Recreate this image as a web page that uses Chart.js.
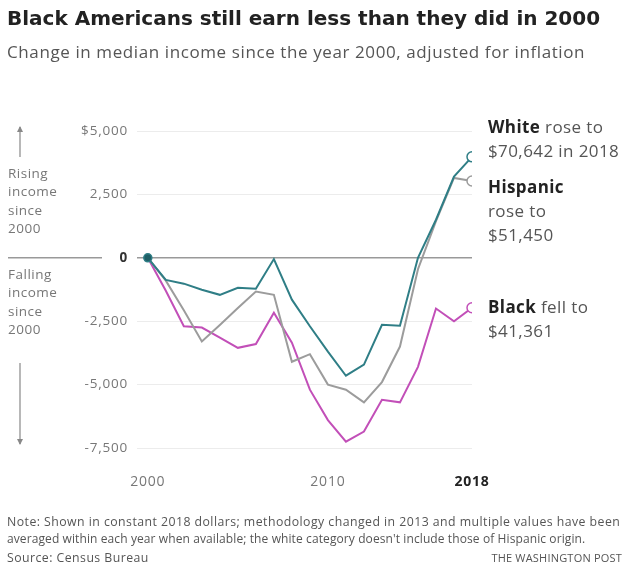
<!DOCTYPE html>
<html>
<head>
<meta charset="utf-8">
<script src="https://cdn.jsdelivr.net/npm/chart.js@4/dist/chart.umd.min.js"></script>
<style>
  body { margin: 0; background: #fff; font-family: "Open Sans", Roboto, sans-serif; }
  #wrap { position: relative; width: 631px; height: 569px; overflow: hidden; }
  #wrap canvas { position: absolute; left: 0; top: 0; }
  .txt { position: absolute; white-space: nowrap; }
  h1 { position: absolute; left: 7px; top: 6px; margin: 0; font-family: "DejaVu Sans", sans-serif; font-size: 20px; font-weight: 700; color: #222; }
  .sub { left: 7px; top: 40px; font-size: 17px; letter-spacing: 0.6px; color: #555; }
  .lbl { font-size: 17px; letter-spacing: 0.4px; color: #555; line-height: 24px; left: 488px; }
  .lbl b { color: #222; }
  .note { font-size: 12.3px; letter-spacing: 0.45px; color: #555; left: 7px; }
</style>
</head>
<body>
<div id="wrap">
  <canvas id="incomeChart"></canvas>
  <h1>Black Americans still earn less than they did in 2000</h1>
  <div class="txt sub">Change in median income since the year 2000, adjusted for inflation</div>

  <div class="txt lbl" style="top:115px"><b>White</b> rose to<br>$70,642 in 2018</div>
  <div class="txt lbl" style="top:175px"><b>Hispanic</b><br>rose to<br>$51,450</div>
  <div class="txt lbl" style="top:295px"><b>Black</b> fell to<br>$41,361</div>

  <div class="txt note" style="top:513px">Note: Shown in constant 2018 dollars; methodology changed in 2013 and multiple values have been</div>
  <div class="txt note" style="top:530px; font-size:12px; letter-spacing:0.1px;">averaged within each year when available; the white category doesn't include those of Hispanic origin.</div>
  <div class="txt note" style="top:549px">Source: Census Bureau</div>
  <div class="txt note" style="top:550px; left:auto; right:9px; font-size:11px; letter-spacing:0.2px;">THE WASHINGTON POST</div>
</div>

<script>
// change in median household income vs. 2000, constant 2018 dollars
const years = [2000, 2001, 2002, 2003, 2004, 2005, 2006, 2007, 2008, 2009,
               2010, 2011, 2012, 2013, 2014, 2015, 2016, 2017, 2018];
const whiteChange    = [0, -870, -1020, -1260, -1460, -1180, -1220, -50, -1650, -2700,
                        -3700, -4650, -4210, -2640, -2680, 0, 1500, 3200, 3980];
const hispanicChange = [0, -900, -2070, -3300, -2650, -1980, -1330, -1460, -4100, -3800,
                        -5000, -5200, -5700, -4900, -3500, -450, 1450, 3150, 3030];
const blackChange    = [0, -1300, -2700, -2750, -3150, -3550, -3400, -2170, -3350, -5200,
                        -6400, -7250, -6850, -5600, -5700, -4300, -2000, -2500, -1970];

const yTicks = [-7500, -5000, -2500, 0, 2500, 5000];
const xTicks = [2000, 2010, 2018];

const TEAL = '#2f7e86';
const GREY = '#9c9c9c';
const PINK = '#c24fb8';
const FONT = '"Open Sans", Roboto, sans-serif';

const toPoints = vals => vals.map((v, i) => ({ x: years[i], y: v }));
const tickIs = (ctx, v) => !!ctx.tick && ctx.tick.value === v;

// open circle on the last year, nothing elsewhere
const endRadius = ctx => ctx.dataIndex === years.length - 1 ? 5 : 0;

const series = (label, vals, color) => ({
    label,
    data: toPoints(vals),
    borderColor: color,
    borderWidth: 2,
    pointRadius: endRadius,
    pointHoverRadius: endRadius,
    pointBackgroundColor: '#fff',
    pointBorderColor: color,
    pointBorderWidth: 1.5,
    tension: 0,
    fill: false
});

const whiteSet = series('White', whiteChange, TEAL);
// white line also carries the dark start dot at 2000
whiteSet.pointRadius = ctx => ctx.dataIndex === 0 ? 4 : endRadius(ctx);
whiteSet.pointBackgroundColor = ctx => ctx.dataIndex === 0 ? '#1f5f66' : '#fff';

// side notes: zero line stub, arrows and rising/falling labels
const sideNotes = {
    id: 'sideNotes',
    beforeDraw(chart) {
        // a little tracking for the axis labels
        chart.ctx.letterSpacing = '0.8px';
    },
    afterDraw(chart) {
        const c = chart.ctx;
        const y0 = chart.scales.y.getPixelForValue(0);
        c.save();
        c.strokeStyle = '#999';
        c.lineWidth = 1.5;
        c.beginPath();
        c.moveTo(8, y0);
        c.lineTo(102, y0);
        c.stroke();

        c.strokeStyle = '#888';
        c.fillStyle = '#888';
        c.lineWidth = 1.2;
        const arrow = (x, from, to) => {
            c.beginPath();
            c.moveTo(x, from);
            c.lineTo(x, to);
            c.stroke();
            const d = to < from ? 1 : -1;
            c.beginPath();
            c.moveTo(x, to - d);
            c.lineTo(x - 3, to + d * 5);
            c.lineTo(x + 3, to + d * 5);
            c.closePath();
            c.fill();
        };
        arrow(20, 157, 127);
        arrow(20, 363, 444);

        c.fillStyle = '#777';
        c.font = '13.5px ' + FONT;
        c.letterSpacing = '0.5px';
        c.textBaseline = 'middle';
        c.textAlign = 'left';
        ['Rising', 'income', 'since', '2000'].forEach((t, i) => c.fillText(t, 8, 174 + i * 18.5));
        ['Falling', 'income', 'since', '2000'].forEach((t, i) => c.fillText(t, 8, 275 + i * 18.5));
        c.restore();
    }
};

new Chart(document.getElementById('incomeChart'), {
    type: 'line',
    data: { datasets: [whiteSet, series('Hispanic', hispanicChange, GREY), series('Black', blackChange, PINK)] },
    options: {
        responsive: true,
        maintainAspectRatio: false,
        animation: false,
        layout: { padding: { left: 0, right: 159, top: 131, bottom: 81 } },
        plugins: { legend: { display: false }, tooltip: { enabled: false } },
        scales: {
            x: {
                type: 'linear',
                min: 1999.4,
                max: 2018,
                afterBuildTicks: s => { s.ticks = xTicks.map(v => ({ value: v })); },
                afterFit: s => { s.height = 40; },
                grid: { display: false, drawTicks: false },
                border: { display: false },
                ticks: {
                    padding: 26,
                    maxRotation: 0,
                    color: ctx => tickIs(ctx, 2018) ? '#222' : '#777',
                    font: ctx => ({ family: FONT, size: 14, weight: tickIs(ctx, 2018) ? '700' : '400' }),
                    callback: v => String(v)
                }
            },
            y: {
                min: -7500,
                max: 5000,
                afterBuildTicks: s => { s.ticks = yTicks.map(v => ({ value: v })); },
                afterFit: s => { s.width = 137; },
                grid: {
                    drawTicks: false,
                    color: ctx => tickIs(ctx, 0) ? '#999' : '#ececec',
                    lineWidth: ctx => tickIs(ctx, 0) ? 1.5 : 1
                },
                border: { display: false },
                ticks: {
                    padding: 9,
                    color: ctx => tickIs(ctx, 0) ? '#333' : '#777',
                    font: ctx => ({ family: FONT, size: 13.5, weight: tickIs(ctx, 0) ? '700' : '400' }),
                    callback: v => {
                        if (v === 0) return '0';
                        const s = Math.abs(v).toLocaleString('en-US');
                        if (v === 5000) return '$' + s;
                        return (v < 0 ? '-' : '') + s;
                    }
                }
            }
        }
    },
    plugins: [sideNotes]
});
</script>
</body>
</html>
